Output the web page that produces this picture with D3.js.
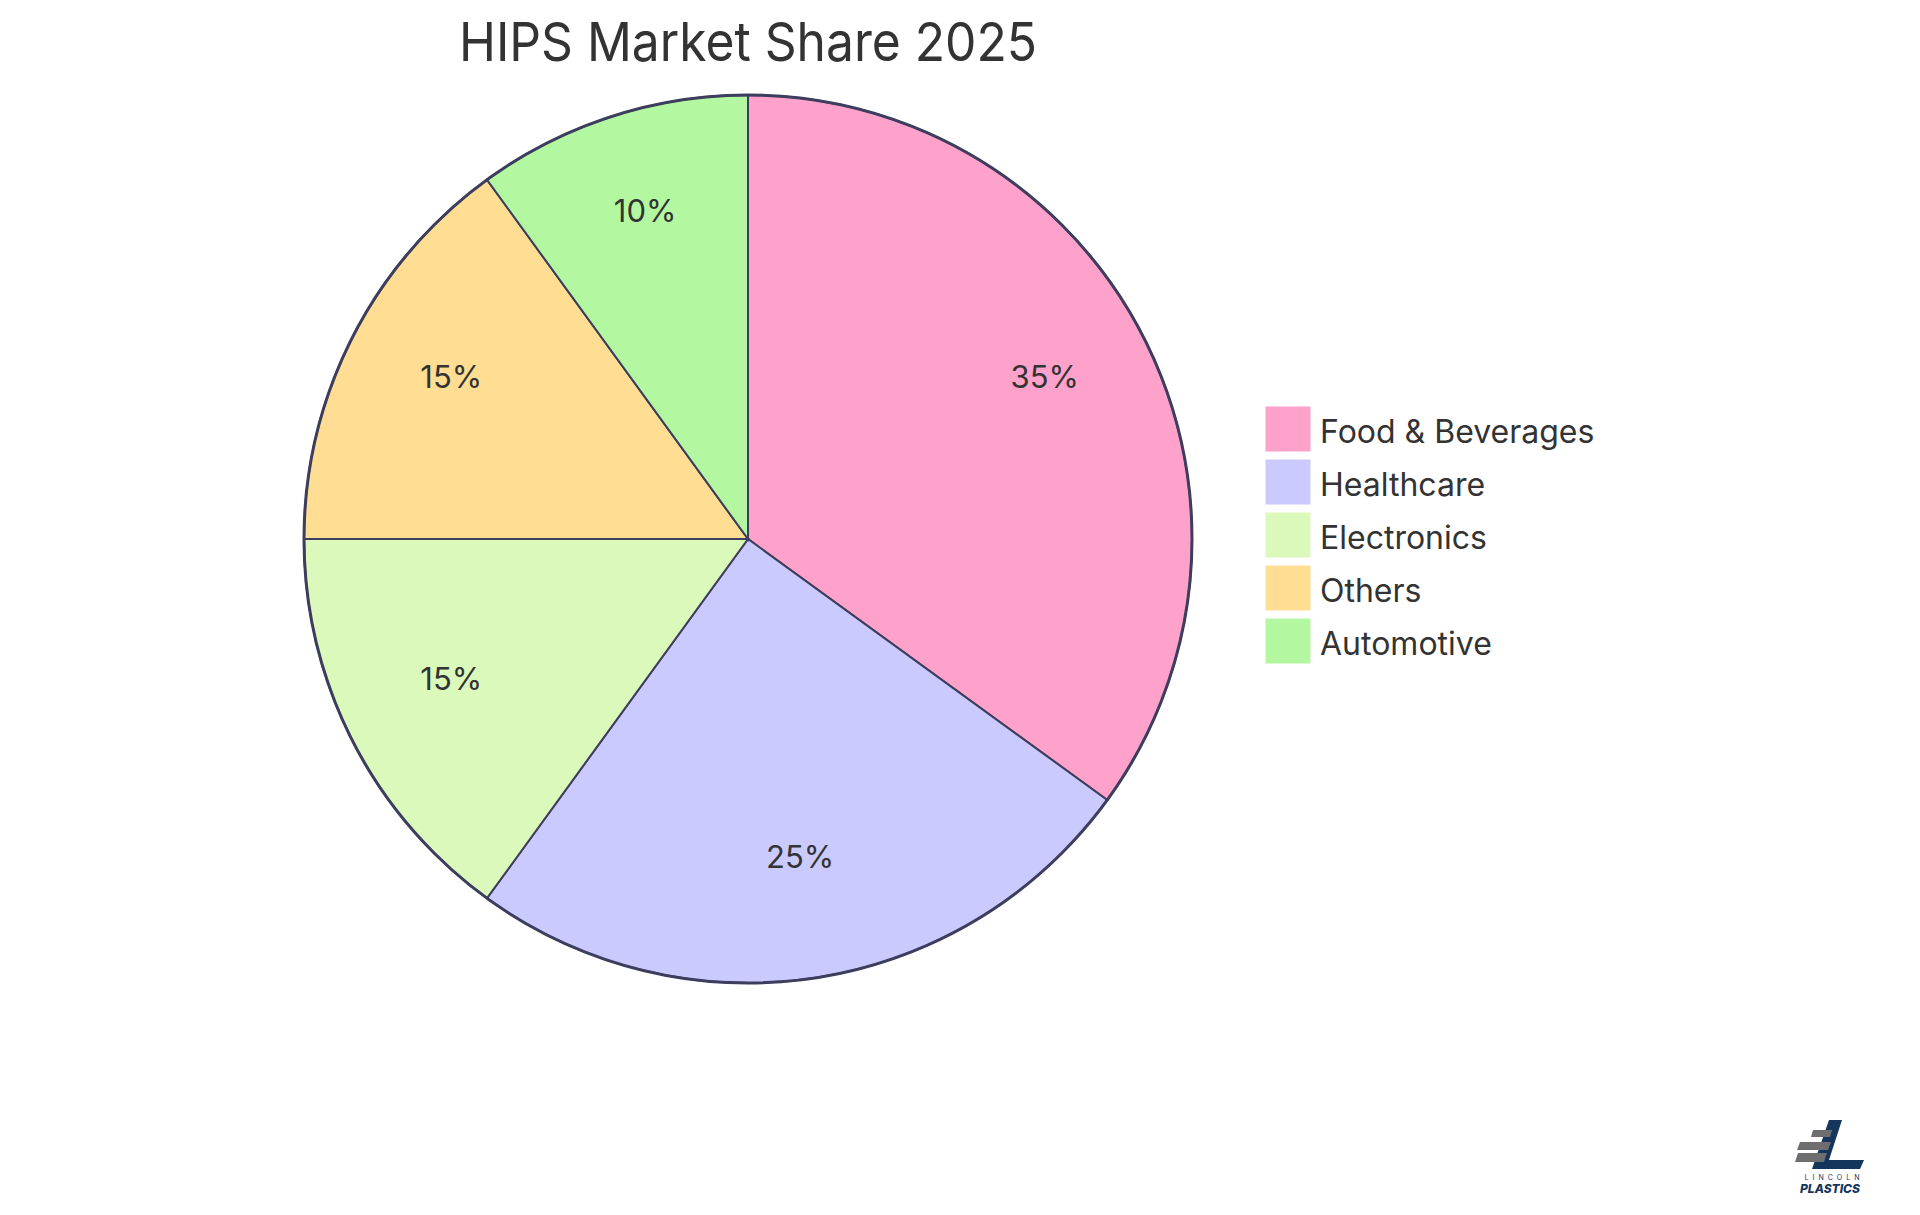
<!DOCTYPE html>
<html><head><meta charset="utf-8">
<script src="https://cdn.jsdelivr.net/npm/d3@7/dist/d3.min.js"></script>
<style>html,body{margin:0;padding:0;background:#fff;} text{font-family:Inter,"Open Sans",sans-serif;}</style>
</head><body>
<svg id="chart" width="1920" height="1215"></svg>
<script>
const categories = ["Food & Beverages","Healthcare","Electronics","Others","Automotive"];
const values = [35,25,15,15,10];
const colors = ["#FFA2CB","#CACAFF","#DBF9BB","#FFDE93","#B3F8A0"];
const title = "HIPS Market Share 2025";

const svg = d3.select("#chart");
const cx = 748, cy = 539, r = 444;
const stroke = "#3d3e5e";

svg.append("text").attr("x", cx).attr("y", 61).attr("text-anchor","middle")
  .attr("font-size", 54).attr("fill","#333")
  .attr("textLength", 578).attr("lengthAdjust","spacingAndGlyphs").text(title);

const data = categories.map((c,i)=>({cat:c, v:values[i], col:colors[i]}));
const pie = d3.pie().sort(null).value(d=>d.v);
const arcs = pie(data);
const arc = d3.arc().innerRadius(0).outerRadius(r);
const labelArc = d3.arc().innerRadius(r*0.75).outerRadius(r*0.75);
const g = svg.append("g").attr("transform",`translate(${cx},${cy})`);
g.selectAll("path.s").data(arcs).join("path").attr("class","s")
  .attr("d", arc).attr("fill", d=>d.data.col).attr("stroke",stroke).attr("stroke-width",2);
g.append("circle").attr("r", r).attr("fill","none").attr("stroke",stroke).attr("stroke-width",3);
g.selectAll("text.l").data(arcs).join("text").attr("class","l")
  .attr("transform", d=>{const c=labelArc.centroid(d); return `translate(${c[0]},${c[1]})`;})
  .attr("text-anchor","middle").attr("font-size",31).attr("fill","#333")
  .text(d=>Math.round(d.data.v/d3.sum(values)*100)+"%");

const legendY = d3.scaleBand().domain(categories).range([407, 672]);
const lg = svg.append("g");
const rows = lg.selectAll("g").data(data).join("g")
  .attr("transform", d=>`translate(1266,${legendY(d.cat)})`);
rows.append("rect").attr("width",44).attr("height",44).attr("fill",d=>d.col).attr("stroke",d=>d.col);
rows.append("text").attr("x",54).attr("y",36).attr("font-size",32).attr("fill","#333").text(d=>d.cat);

// logo
const logo = svg.append("g");
logo.append("path").attr("d","M1829,1120 L1842,1120 L1829,1160 L1864,1160 L1860,1169 L1812,1169 Z").attr("fill","#14355c");
logo.append("path").attr("d","M1813,1130 L1832,1130 L1830,1137 L1811,1137 Z").attr("fill","#6e6e70");
logo.append("path").attr("d","M1800,1142 L1831,1142 L1828,1150 L1797,1150 Z").attr("fill","#6e6e70");
logo.append("path").attr("d","M1798,1153 L1827,1153 L1824,1162 L1795,1162 Z").attr("fill","#6e6e70");
logo.append("text").attr("x",1834).attr("y",1180).attr("text-anchor","middle").attr("font-size",7).attr("letter-spacing",4).attr("fill","#14355c").text("LINCOLN");
logo.append("text").attr("x",1830).attr("y",1193).attr("text-anchor","middle").attr("font-size",12).attr("font-weight",800).attr("font-style","italic").attr("fill","#14355c").text("PLASTICS");
</script>
</body></html>
